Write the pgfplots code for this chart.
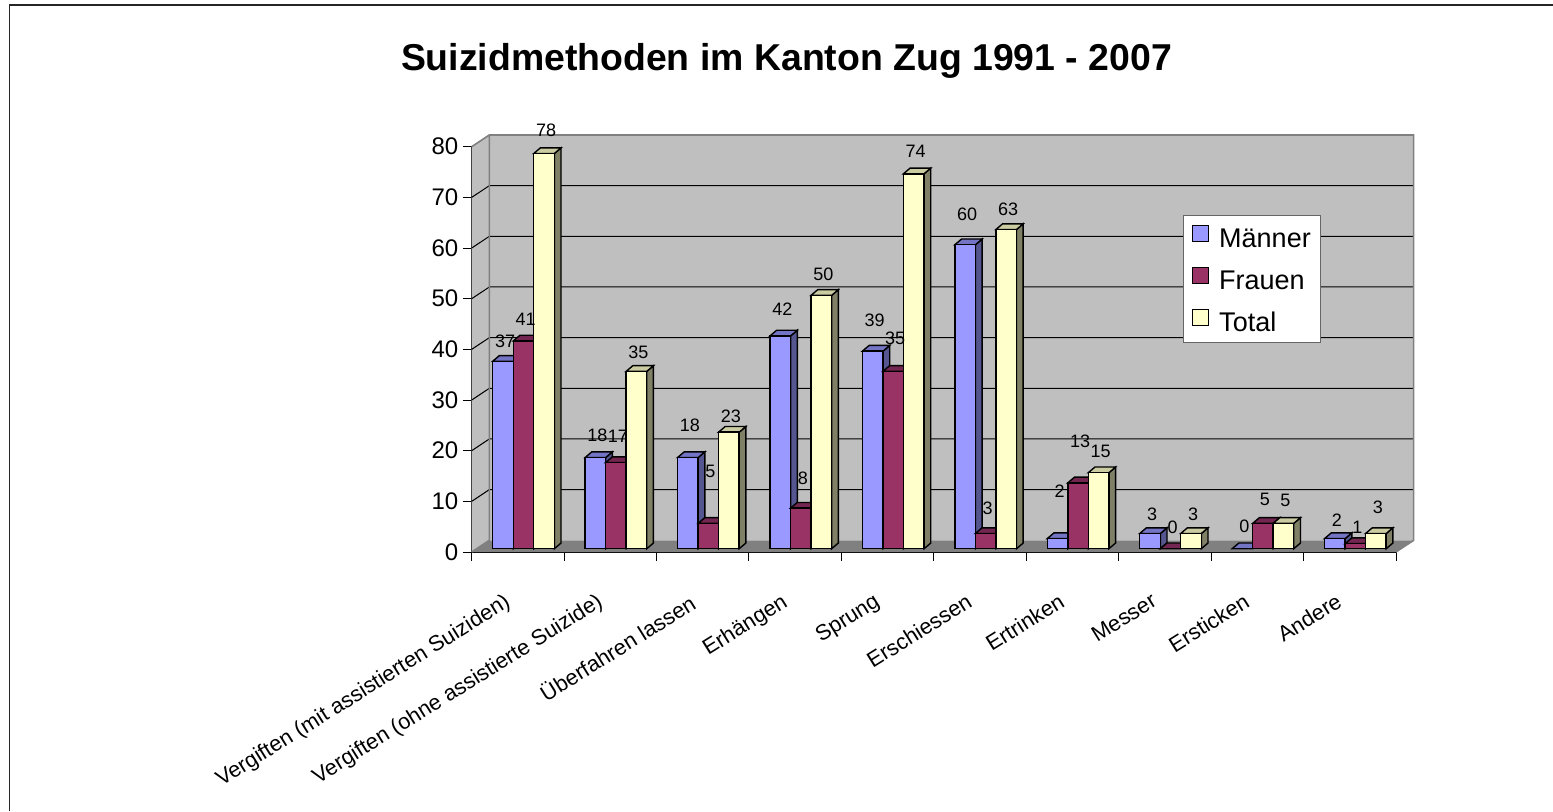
\documentclass[border=0pt]{standalone}
\usepackage{fontspec}
\setmainfont{Liberation Sans}
\usepackage{pgfplots}
\usepackage{pgfplotstable}
\pgfplotsset{compat=1.18}

\definecolor{mBlue}{HTML}{9999FF}
\definecolor{mBlueSide}{HTML}{555590}
\definecolor{mBlueTop}{HTML}{7474C4}
\definecolor{fRed}{HTML}{993366}
\definecolor{fRedSide}{HTML}{5A1F3C}
\definecolor{fRedTop}{HTML}{732650}
\definecolor{tYellow}{HTML}{FFFFCC}
\definecolor{tYellowSide}{HTML}{808066}
\definecolor{tYellowTop}{HTML}{CCCCA3}

% yM, yF, yT: height at which the value label of each bar sits
\pgfplotstableread{
x   Maenner Frauen Total yM    yF    yT
0.5 37      41     78    41.65 46.00 83.30
1.5 18      17     35    23.10 22.90 39.48
2.5 18      5      23    25.07 16.00 26.85
3.5 42      8      50    47.97 14.60 54.88
4.5 39      35     74    45.80 42.24 79.15
5.5 60      3      63    66.70 8.69  67.70
6.5 2       13     15    12.04 21.90 19.94
7.5 3       0      3     7.50  4.93  7.50
8.5 0       5      5     5.13  10.46 10.26
9.5 2       1      3     6.32  4.93  8.88
}\data

% the three faces of a bar, mark at top front centre; 1 unit = 2.5335pt
\pgfdeclareplotmark{barcap}{%
  \pgfmathsetmacro\h{\barval*2.5335}%
  \fill[cubeside,draw=black,line width=0.7pt] (5.15pt,0pt) -- (8.5pt,2.85pt) -- (8.5pt,2.85pt-\h pt) -- (5.15pt,-\h pt) -- cycle;
  \fill[cubetop,draw=black,line width=0.7pt] (-5.15pt,0pt) -- (-1.8pt,2.85pt) -- (8.5pt,2.85pt) -- (5.15pt,0pt) -- cycle;
  \fill[cubefront,draw=black,line width=0.7pt] (-5.15pt,0pt) rectangle (5.15pt,-\h pt);
}

\pgfplotsset{
  front/.style 2 args={ybar,bar width=10.3pt,bar shift=#2,yshift=1.65pt,draw=black,line width=0.7pt,fill=#1,
    legend image code/.code={\draw[draw=black,fill=#1,line width=0.7pt] (0pt,-4pt) rectangle (8pt,4pt);}},
  cubes/.style n args={3}{only marks,scatter,mark=barcap,forget plot,
    visualization depends on={y\as\barval},
    scatter/@pre marker code/.code={\pgfscope\colorlet{cubefront}{#1}\colorlet{cubeside}{#2}\colorlet{cubetop}{#3}},
    scatter/@post marker code/.code={\endpgfscope}},
  vals/.style={only marks,mark=none,forget plot,point meta=explicit,nodes near coords,
    nodes near coords style={font=\fontsize{9}{10}\selectfont,anchor=center,xshift=1pt,yshift=-1.65pt,text=black}},
  sM/.style={xshift=-7.45pt,yshift=1.65pt},
  sF/.style={xshift=2.8pt,yshift=1.65pt},
  sT/.style={xshift=13.05pt,yshift=1.65pt},
}

\begin{document}
\begin{tikzpicture}
\path[use as bounding box] (0,0) rectangle (776.5pt,405.5pt);
\draw[line width=0.8pt,black!85] (4.75pt,0) -- (4.75pt,402.9pt) -- (776.5pt,402.9pt);
\node[font=\bfseries\fontsize{18.7}{22}\selectfont] at (393.25pt,374.8pt) {Suizidmethoden im Kanton Zug 1991 - 2007};
\begin{axis}[
    at={(235.85pt,129.5pt)},
    anchor=south west,
    scale only axis,
    width=462.15pt,
    height=202.65pt,
    xmin=0,xmax=10,
    ymin=0,ymax=80,
    clip=false,
    axis x line*=bottom,
    axis y line*=left,
    axis line style={-,line width=0.6pt},
    tick align=outside,
    major tick length=4.5pt,
    tick style={black,line width=0.5pt},
    xtick={0,1,...,10},
    xticklabels={},
    ytick={0,10,...,80},
    extra x ticks={0.5,1.5,2.5,3.5,4.5,5.5,6.5,7.5,8.5,9.5},
    extra x tick labels={Vergiften (mit assistierten Suiziden),Vergiften (ohne assistierte Suizide),Überfahren lassen,Erhängen,Sprung,Erschiessen,Ertrinken,Messer,Ersticken,Andere},
    extra x tick style={major tick length=0pt,
      tick label style={font=\fontsize{10.9}{12}\selectfont,rotate=32,anchor=north east,inner sep=0pt,xshift=-16.8pt,yshift=-12.9pt}},
    y tick label style={font=\fontsize{12}{14}\selectfont,inner sep=2pt},
    /pgf/number format/assume math mode=true,
    legend style={at={(0.7699,0.8315)},anchor=north west,draw=black!60,line width=0.5pt,
      font=\fontsize{13.5}{14}\selectfont,inner xsep=4pt,inner ysep=4.75pt,row sep=9pt,
      legend cell align=left,
      /tikz/every odd column/.append style={column sep=4pt},
      nodes={inner sep=1pt,text height=10pt,text depth=0pt}},
]
% walls and floor
\fill[fill=black!25] (axis cs:0,0) -- (axis cs:0.1905,2.31) -- (axis cs:0.1905,82.31) -- (axis cs:0,80) -- cycle;
\fill[fill=black!25] (axis cs:0.1905,2.31) rectangle (axis cs:10.1905,82.31);
\fill[fill=black!50] (axis cs:0,0) -- (axis cs:10,0) -- (axis cs:10.1905,2.31) -- (axis cs:0.1905,2.31) -- cycle;
\pgfplotsinvokeforeach{10,20,30,40,50,60,70}{
  \draw[black,line width=0.5pt] (axis cs:0,#1) -- (axis cs:0.1905,#1+2.31) -- (axis cs:10.1905,#1+2.31);
}
\draw[black!50,line width=0.8pt] (axis cs:0,80) -- (axis cs:0.1905,82.31) -- (axis cs:10.1905,82.31) -- (axis cs:10.1905,2.31) -- (axis cs:10,0);
\draw[black!50,line width=0.8pt] (axis cs:0,0) -- (axis cs:0.1905,2.31) -- (axis cs:0.1905,82.31);

\addplot[front={mBlue}{-7.45pt}] table[x=x,y=Maenner]{\data};
\addplot[front={fRed}{2.8pt}] table[x=x,y=Frauen]{\data};
\addplot[front={tYellow}{13.05pt}] table[x=x,y=Total]{\data};

\addplot[cubes={mBlue}{mBlueSide}{mBlueTop},sM] table[x=x,y=Maenner]{\data};
\addplot[cubes={fRed}{fRedSide}{fRedTop},sF] table[x=x,y=Frauen]{\data};
\addplot[cubes={tYellow}{tYellowSide}{tYellowTop},sT] table[x=x,y=Total]{\data};

\addplot[vals,sM] table[x=x,y=yM,meta=Maenner]{\data};
\addplot[vals,sF] table[x=x,y=yF,meta=Frauen]{\data};
\addplot[vals,sT] table[x=x,y=yT,meta=Total]{\data};

\legend{Männer,Frauen,Total}
\end{axis}
\end{tikzpicture}
\end{document}
